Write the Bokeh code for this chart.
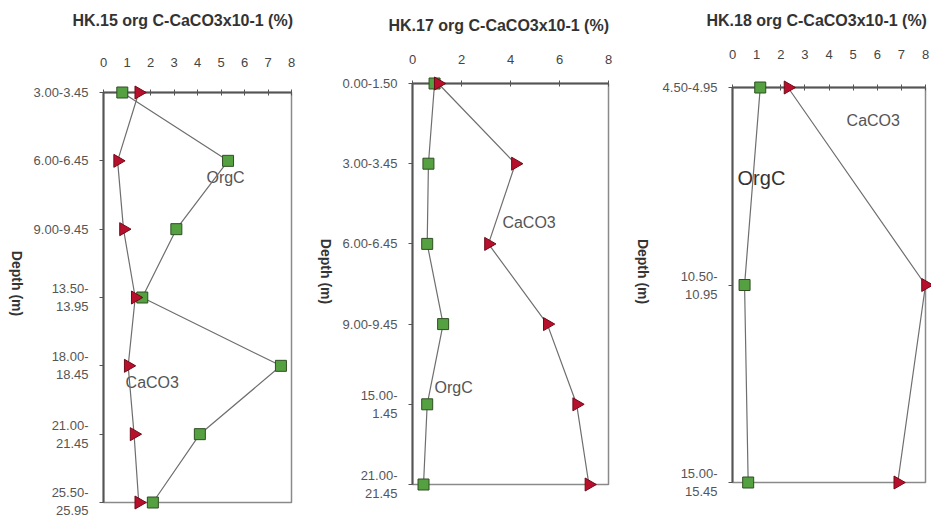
import math
from bokeh.plotting import figure
from bokeh.models import Range1d, FixedTicker, Label, ColumnDataSource
from bokeh.core.properties import value
from bokeh.layouts import row, column
from bokeh.embed import file_html
from bokeh.resources import INLINE

# ---------------- data ----------------
hk15_title = "HK.15 org C-CaCO3x10-1 (%)"
hk15_depths = ["3.00-3.45", "6.00-6.45", "9.00-9.45", "13.50-\n13.95",
               "18.00-\n18.45", "21.00-\n21.45", "25.50-\n25.95"]
hk15_orgc = [0.8, 5.3, 3.1, 1.65, 7.55, 4.1, 2.1]
hk15_caco3 = [1.5, 0.6, 0.85, 1.35, 1.05, 1.3, 1.5]
hk15_xticks = [0, 1, 2, 3, 4, 5, 6, 7, 8]

hk17_title = "HK.17 org C-CaCO3x10-1 (%)"
hk17_depths = ["0.00-1.50", "3.00-3.45", "6.00-6.45", "9.00-9.45",
               "15.00-\n1.45", "21.00-\n21.45"]
hk17_orgc = [0.9, 0.65, 0.6, 1.25, 0.6, 0.45]
hk17_caco3 = [1.05, 4.2, 3.1, 5.5, 6.7, 7.2]
hk17_xticks = [0, 2, 4, 6, 8]

hk18_title = "HK.18 org C-CaCO3x10-1 (%)"
hk18_depths = ["4.50-4.95", "10.50-\n10.95", "15.00-\n15.45"]
hk18_orgc = [1.15, 0.5, 0.65]
hk18_caco3 = [2.3, 8.0, 6.85]
hk18_xticks = [0, 1, 2, 3, 4, 5, 6, 7, 8]

y_label = "Depth (m)"

FONT = "Liberation Sans"
GREEN = "#55a040"
GREEN_LINE = "#2f4f22"
RED = "#b8102c"
RED_LINE = "#6e0a18"
LINE = "#6e6e6e"


def make_panel(title, depths, orgc, caco3, xticks, g, labels):
    n = len(depths)
    p = figure(frame_width=g["fw"], frame_height=g["fh"],
               x_range=Range1d(0, 8), y_range=Range1d(n - 1, 0),
               x_axis_location="above", title=None,
               min_border_left=g["bl"], min_border_right=g["br"],
               min_border_top=g["bt"], min_border_bottom=g["bb"],
               output_backend="svg", toolbar_location=None,
               background_fill_color="white", border_fill_color="white")

    p.xgrid.visible = False
    p.ygrid.visible = False
    p.outline_line_color = "#8a8a8a"
    p.outline_line_width = 1.5

    xa = p.xaxis[0]
    xa.ticker = FixedTicker(ticks=xticks)
    xa.minor_tick_line_color = None
    xa.major_tick_in = 3
    xa.major_tick_out = 3
    xa.major_label_standoff = g["xls"]
    xa.major_label_text_font = FONT
    xa.major_label_text_font_size = "13px"
    xa.major_label_text_color = "#444444"
    xa.axis_line_color = "#555555"
    xa.axis_line_width = 2
    xa.major_tick_line_color = "#555555"

    ya = p.yaxis[0]
    ya.ticker = FixedTicker(ticks=list(range(n)))
    ya.major_label_overrides = {i: d for i, d in enumerate(depths)}
    ya.minor_tick_line_color = None
    ya.major_tick_in = 0
    ya.major_tick_out = 4
    ya.major_label_standoff = 11
    ya.major_label_text_font = FONT
    ya.major_label_text_font_size = "13px"
    ya.major_label_text_color = "#555555"
    ya.axis_line_color = "#555555"
    ya.axis_line_width = 2
    ya.major_tick_line_color = "#555555"

    idx = list(range(n))
    src = ColumnDataSource(dict(y=idx, orgc=orgc, caco3=caco3))
    r1 = p.line("orgc", "y", source=src, line_color=LINE, line_width=1.2)
    r2 = p.line("caco3", "y", source=src, line_color=LINE, line_width=1.2)
    r3 = p.scatter("orgc", "y", source=src, marker="square", size=11,
                   fill_color=GREEN, line_color=GREEN_LINE, line_width=1)
    r4 = p.scatter("caco3", "y", source=src, marker="triangle", size=13,
                   angle=-math.pi / 2, fill_color=RED, line_color=RED_LINE,
                   line_width=1)

    # chart title, placed above the top axis (unclipped overlay text)
    tx, ty = g["tpos"]
    r5 = p.text(x=[tx], y=[ty], text=[title], text_font=value(FONT),
                text_font_size="16px", text_font_style="bold",
                text_color="#333333", text_baseline="middle",
                text_align="left")
    # y-axis title, reading top-to-bottom
    ax, ay = g["ypos"]
    r6 = p.text(x=[ax], y=[ay], text=[y_label], text_font=value(FONT),
                text_font_size="14px", text_font_style="bold",
                text_color="#333333", text_baseline="middle",
                text_align="center", angle=-math.pi / 2)
    for r in (r1, r2, r3, r4, r5, r6):
        r.level = "overlay"

    for (txt, lx, ly, fs, col) in labels:
        p.add_layout(Label(x=lx, y=ly, text=txt, text_font=FONT,
                           text_font_size=fs, text_color=col,
                           text_baseline="middle", text_align="left"))
    return p


p1 = make_panel(hk15_title, hk15_depths, hk15_orgc, hk15_caco3, hk15_xticks,
                dict(fw=188, fh=410, bl=103, br=16, bt=92, bb=15,
                     xls=23, tpos=(-1.32, -1.05), ypos=(-3.70, 2.795)),
                [("OrgC", 4.38, 1.24, "16px", "#555555"),
                 ("CaCO3", 0.94, 4.24, "16px", "#555555")])
p2 = make_panel(hk17_title, hk17_depths, hk17_orgc, hk17_caco3, hk17_xticks,
                dict(fw=196, fh=401, bl=105, br=5, bt=83, bb=20,
                     xls=17, tpos=(-0.98, -0.72), ypos=(-3.55, 2.344)),
                [("CaCO3", 3.67, 1.73, "16px", "#555555"),
                 ("OrgC", 0.9, 3.79, "16px", "#555555")])
p3 = make_panel(hk18_title, hk18_depths, hk18_orgc, hk18_caco3, hk18_xticks,
                dict(fw=193, fh=395, bl=119, br=6, bt=87, bb=20,
                     xls=26, tpos=(-1.08, -0.34), ypos=(-3.69, 0.932)),
                [("CaCO3", 4.73, 0.167, "16px", "#555555"),
                 ("OrgC", 0.21, 0.456, "20px", "#333333")])

layout = row(column(p1), column(p2), column(p3))
open("out.html", "w").write(file_html(layout, INLINE))
